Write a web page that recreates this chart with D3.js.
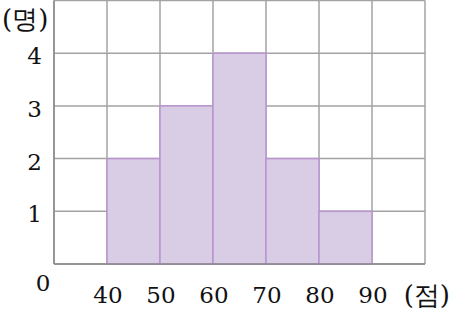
<!DOCTYPE html>
<html><head><meta charset="utf-8">
<script src="https://cdn.jsdelivr.net/npm/d3@7"></script>
<style>body{margin:0;background:#fff}svg{display:block}</style>
</head><body>
<svg id="c" width="451" height="312"></svg>
<script>
const binStarts = [40, 50, 60, 70, 80];
const binWidth = 10;
const counts = [2, 3, 4, 2, 1];
const xTicks = [40, 50, 60, 70, 80, 90];
const yTicks = [1, 2, 3, 4];
const xDomain = [30, 100];
const yDomain = [0, 5];
const yUnit = "(명)";
const xUnit = "(점)";

const FONT = "DejaVu Serif";
const svg = d3.select("#c");
const x = d3.scaleLinear().domain(xDomain).range([54, 425]);
const y = d3.scaleLinear().domain(yDomain).range([264, 0.5]);
const grid = "#a3a3a3";

const gx = d3.range(xDomain[0], xDomain[1] + 1, 10);
svg.append("g").selectAll("line").data(gx).join("line")
  .attr("x1", d => x(d)).attr("x2", d => x(d)).attr("y1", y(5)).attr("y2", y(0))
  .attr("stroke", grid).attr("stroke-width", 1.5);
svg.append("g").selectAll("line").data(d3.range(0, 6)).join("line")
  .attr("x1", x(xDomain[0])).attr("x2", x(xDomain[1])).attr("y1", d => y(d)).attr("y2", d => y(d))
  .attr("stroke", grid).attr("stroke-width", 1.5);

svg.append("g").selectAll("rect").data(binStarts).join("rect")
  .attr("x", d => x(d)).attr("width", x(binWidth) - x(0))
  .attr("y", (d, i) => y(counts[i])).attr("height", (d, i) => y(0) - y(counts[i]))
  .attr("fill", "#d9cce5").attr("stroke", "#b994cf").attr("stroke-width", 1.5);

svg.append("line").attr("x1", x(xDomain[0])).attr("x2", x(xDomain[1])).attr("y1", y(0)).attr("y2", y(0)).attr("stroke", "#8a8a8a").attr("stroke-width", 1.5);
svg.append("line").attr("x1", x(xDomain[0])).attr("x2", x(xDomain[0])).attr("y1", y(5)).attr("y2", y(0)).attr("stroke", "#8a8a8a").attr("stroke-width", 1.5);

const fs = 23;
const T = sel => sel.style("font-family", FONT).attr("fill", "#111");
svg.append("g").selectAll("text").data(yTicks).join("text").call(T)
  .attr("x", 42).attr("y", d => y(d) + 11).attr("text-anchor", "end")
  .style("font-size", fs + "px").text(d => d);
svg.append("text").call(T).attr("x", 43).attr("y", 291).attr("text-anchor", "middle").style("font-size", fs + "px").text("0");
svg.append("g").selectAll("text").data(xTicks).join("text").call(T)
  .attr("x", d => x(d) + 1).attr("y", 303).attr("text-anchor", "middle")
  .style("font-size", fs + "px").text(d => d);
svg.append("text").call(T).attr("x", 2).attr("y", 28).style("font-size", "26px").text(yUnit);
svg.append("text").call(T).attr("x", 450).attr("y", 304).attr("text-anchor", "end").style("font-size", "26px").text(xUnit);
</script>
</body></html>
